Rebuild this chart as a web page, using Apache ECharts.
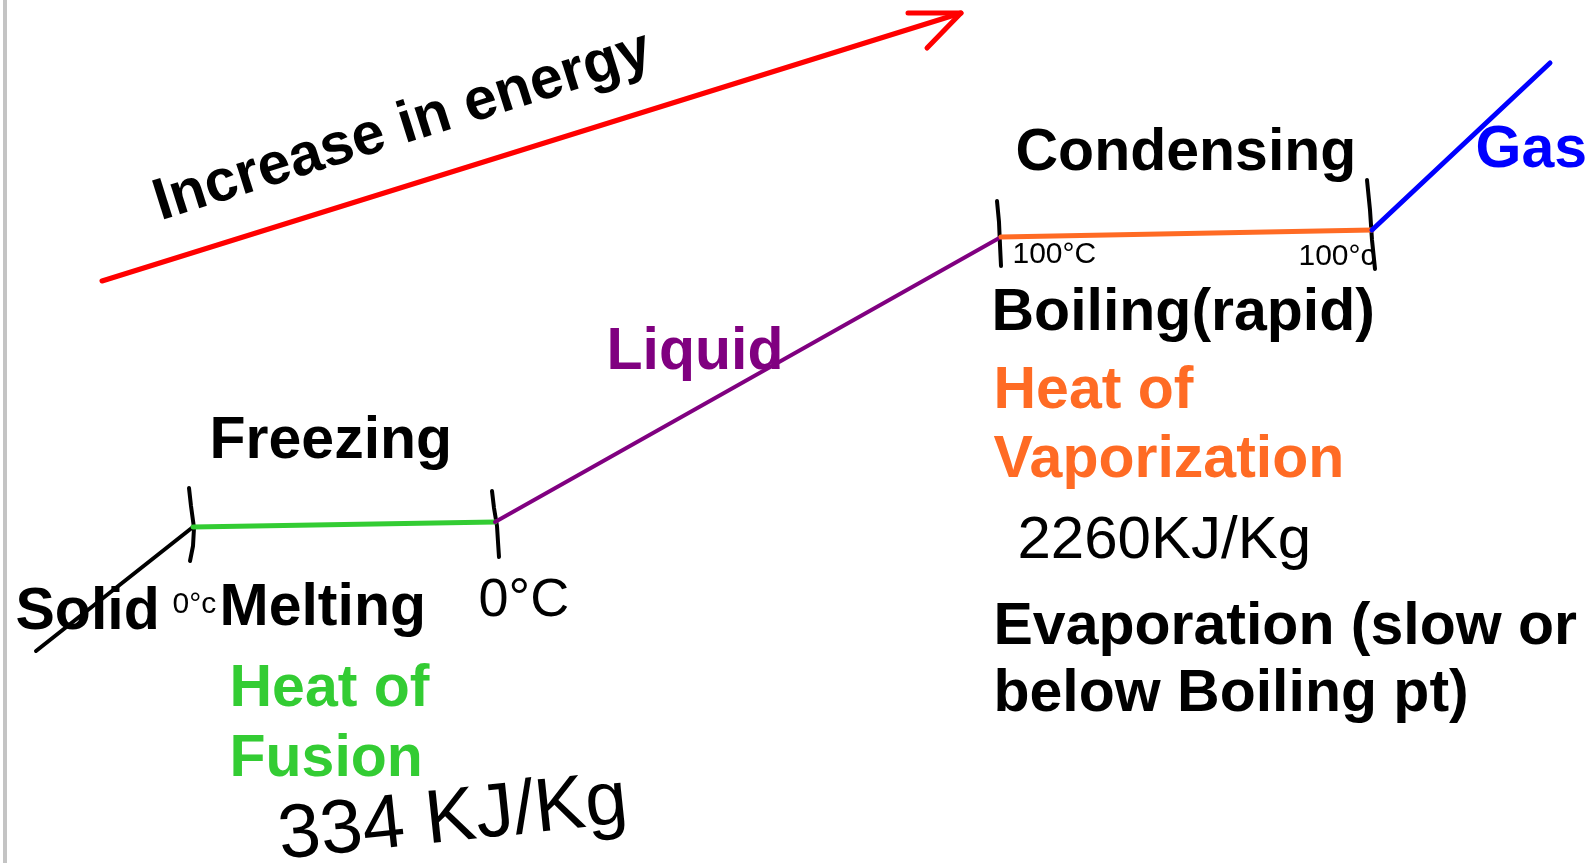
<!DOCTYPE html>
<html lang="en">
<head>
<meta charset="UTF-8">
<title>Heating curve of water</title>
<script src="https://cdn.jsdelivr.net/npm/echarts@6/dist/echarts.min.js"></script>
<style>
  html, body { margin: 0; padding: 0; background: #fff; }
  #board { width: 1594px; height: 863px; }
</style>
</head>
<body>
<div id="board"></div>
<script>
// board units: x to the right, y downward
var solidPhase   = [[36, 651], [193, 527]];
var meltingLine  = [[193, 527], [495, 522]];
var liquidPhase  = [[495, 522], [1001, 237]];
var boilingLine  = [[1001, 237], [1372, 230]];
var gasPhase     = [[1372, 230], [1550, 63]];
var energyArrow  = [[102, 281], [961, 13]];
var arrowHead    = [[908, 13], [961, 13], [927, 48]];

// hand drawn tick marks at the phase changes
var tickMarks = [
  [[189, 488], [191, 506], [194, 528], [193, 546], [190, 561]],
  [[492, 491], [494, 508], [497, 526], [498, 542], [499, 557]],
  [[997, 201], [999, 222], [1000, 245], [1001, 266]],
  [[1367, 180], [1370, 210], [1372, 240], [1375, 269]]
];

// printed labels [x, y, text]
var blackLabels  = [[15, 613, 'Solid'], [219, 609, 'Melting'], [209, 442, 'Freezing'],
                    [1015, 154, 'Condensing'], [991, 314, 'Boiling(rapid)'],
                    [993, 628, 'Evaporation (slow or'], [993, 695, 'below Boiling pt)']];
var purpleLabels = [[606, 353, 'Liquid']];
var blueLabels   = [[1475, 151, 'Gas']];
var orangeLabels = [[993, 392, 'Heat of'], [993, 461, 'Vaporization']];
var greenLabels  = [[229, 690, 'Heat of'], [229, 760, 'Fusion']];
var arrowLabel   = [[155, 205, 'Increase in energy']];

// hand written notes [x, y, text]
var smallNotes = [[172, 605, '0°c'], [1012, 255, '100°C'], [1298, 257, '100°c']];
var bigNotes   = [[478, 601, '0°C']];
var heatNotes  = [[1017, 541, '2260KJ/Kg']];
var fusionNote = [[278, 838, '334 KJ/Kg']];

var FONT = "'Liberation Sans', Arial, sans-serif";

function lineSeries(data, color, width) {
  return {
    type: 'line', data: data, symbol: 'none', silent: true,
    lineStyle: { color: color, width: width, cap: 'round', join: 'round' }
  };
}

function textSeries(data, color, size, weight, rotate) {
  return {
    type: 'scatter', symbolSize: 1, silent: true,
    itemStyle: { color: 'transparent', opacity: 1 },
    data: data,
    label: {
      show: true, position: 'right', distance: 0,
      rotate: rotate || 0, opacity: 1,
      align: 'left', verticalAlign: 'middle',
      formatter: function (p) { return p.value[2]; },
      color: color, fontSize: size, fontWeight: weight, fontFamily: FONT
    }
  };
}

var chart = echarts.init(document.getElementById('board'));
chart.setOption({
  animation: false,
  backgroundColor: '#ffffff',
  grid: { left: 0, right: 0, top: 0, bottom: 0 },
  xAxis: { type: 'value', min: 0, max: 1594, show: false },
  yAxis: { type: 'value', min: 0, max: 863, inverse: true, show: false },
  graphic: [{
    type: 'rect', left: 3, top: 0,
    shape: { width: 4, height: 863 },
    style: { fill: '#c4c4c4' }
  }],
  series: [
    lineSeries(energyArrow, '#ff0000', 5),
    {
      type: 'lines', coordinateSystem: 'cartesian2d', polyline: true, silent: true,
      data: [{ coords: arrowHead }],
      lineStyle: { color: '#ff0000', width: 5, cap: 'round', join: 'round', opacity: 1 }
    },
    lineSeries(solidPhase, '#000000', 4),
    lineSeries(meltingLine, '#33cc33', 5),
    lineSeries(liquidPhase, '#800080', 4),
    lineSeries(boilingLine, '#ff6b24', 5),
    lineSeries(gasPhase, '#0000ff', 5),
    {
      type: 'lines', coordinateSystem: 'cartesian2d', polyline: true, silent: true,
      data: tickMarks.map(function (t) { return { coords: t }; }),
      lineStyle: { color: '#000000', width: 4, cap: 'round', join: 'round', opacity: 1 }
    },
    textSeries(blackLabels, '#000000', 59, 'bold'),
    textSeries(purpleLabels, '#800080', 59, 'bold'),
    textSeries(blueLabels, '#0000ff', 59, 'bold'),
    textSeries(orangeLabels, '#ff6b24', 59, 'bold'),
    textSeries(greenLabels, '#33cc33', 59, 'bold'),
    textSeries(arrowLabel, '#000000', 59, 'bold', 17.5),
    textSeries(smallNotes, '#000000', 30, 'normal'),
    textSeries(bigNotes, '#000000', 54, 'normal'),
    textSeries(heatNotes, '#000000', 60, 'normal'),
    textSeries(fusionNote, '#000000', 76, 'normal', 6)
  ]
});
</script>
</body>
</html>
